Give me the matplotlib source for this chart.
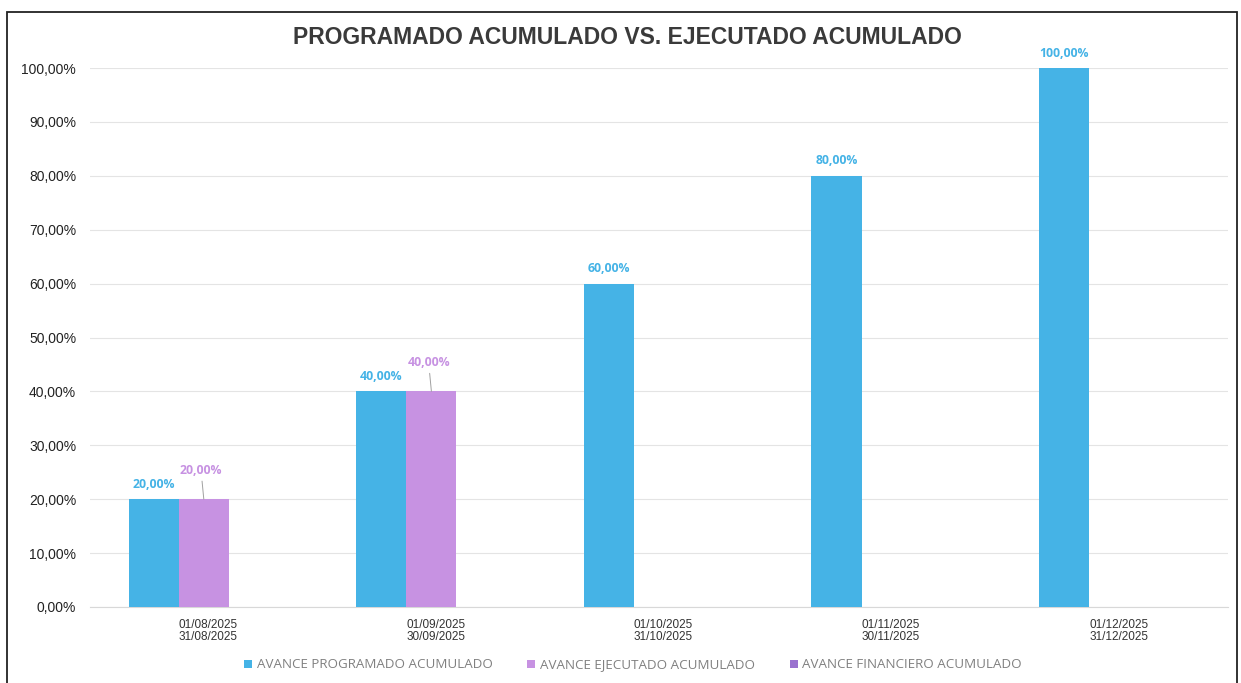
import numpy as np
import matplotlib.pyplot as plt
from matplotlib.patches import Rectangle

periodos = ["01/08/2025\n31/08/2025", "01/09/2025\n30/09/2025", "01/10/2025\n31/10/2025",
            "01/11/2025\n30/11/2025", "01/12/2025\n31/12/2025"]
programado = [20, 40, 60, 80, 100]
ejecutado = [20, 40, 0, 0, 0]
financiero = [0, 0, 0, 0, 0]

c_prog = '#45b3e6'
c_ejec = '#c792e2'
c_fin = '#9a72cf'

fig = plt.figure(figsize=(12.41, 6.83), dpi=100)
ax = fig.add_axes([90 / 1241, 1 - 607 / 683, (1228 - 90) / 1241, (607 - 68) / 683])

x = np.arange(len(periodos))
w = 0.22
ax.bar(x - w, programado, w, color=c_prog, label='AVANCE PROGRAMADO ACUMULADO', zorder=3)
ax.bar(x, ejecutado, w, color=c_ejec, label='AVANCE EJECUTADO ACUMULADO', zorder=3)
ax.bar(x + w, financiero, w, color=c_fin, label='AVANCE FINANCIERO ACUMULADO', zorder=3)

# etiquetas de datos
for i, v in enumerate(programado):
    ax.annotate(f"{v:.2f}%".replace('.', ','), (x[i] - w, v), xytext=(0, 6), textcoords='offset points',
                ha='center', va='bottom', color=c_prog, fontsize=8.8, fontweight='bold',
                family='Open Sans')
for i, v in enumerate(ejecutado):
    if v > 0:
        ax.annotate(f"{v:.2f}%".replace('.', ','), (x[i], v), xytext=(-2, 16), textcoords='offset points',
                    ha='center', va='bottom', color=c_ejec, fontsize=8.8, fontweight='bold',
                    family='Open Sans',
                    arrowprops=dict(arrowstyle='-', color='#a0a0a0', lw=0.7, shrinkA=1, shrinkB=0))

ax.set_xlim(-0.5, 4.5)
ax.set_ylim(0, 100)
ax.set_yticks(np.arange(0, 101, 10))
ax.set_yticklabels([f"{t:.2f}%".replace('.', ',') for t in np.arange(0, 101, 10)],
                   fontsize=10, family='Liberation Sans', color='#222222')
ax.set_xticks(x + 0.02)
ax.set_xticklabels(periodos, fontsize=8.5, family='Liberation Sans', color='#333333', linespacing=1.0)
ax.tick_params(axis='y', length=0, pad=10)
ax.tick_params(axis='x', length=0, pad=9)
ax.grid(axis='y', color='#e4e4e4', lw=0.8, zorder=0)
for s in ['top', 'right', 'left']:
    ax.spines[s].set_visible(False)
ax.spines['bottom'].set_color('#d8d8d8')

fig.text(627 / 1241, 1 - 37 / 683, 'PROGRAMADO ACUMULADO VS. EJECUTADO ACUMULADO',
         ha='center', va='center', fontsize=16.5, fontweight='bold', color='#3a3a3a',
         family='Liberation Sans')

leg = fig.legend(loc='center', bbox_to_anchor=(633 / 1241, 1 - 665 / 683), ncol=3, frameon=False,
                 handlelength=0.6, handleheight=0.6, handletextpad=0.35, columnspacing=2.6,
                 prop={'family': 'Open Sans', 'size': 9.6})
for t in leg.get_texts():
    t.set_color('#808080')

fig.patches.append(Rectangle((7 / 1241, -0.05), 1230 / 1241, 1 - 12 / 683 + 0.05,
                             transform=fig.transFigure, fill=False, ec='#222222', lw=1.3))

fig.savefig('out.png', dpi=100)
